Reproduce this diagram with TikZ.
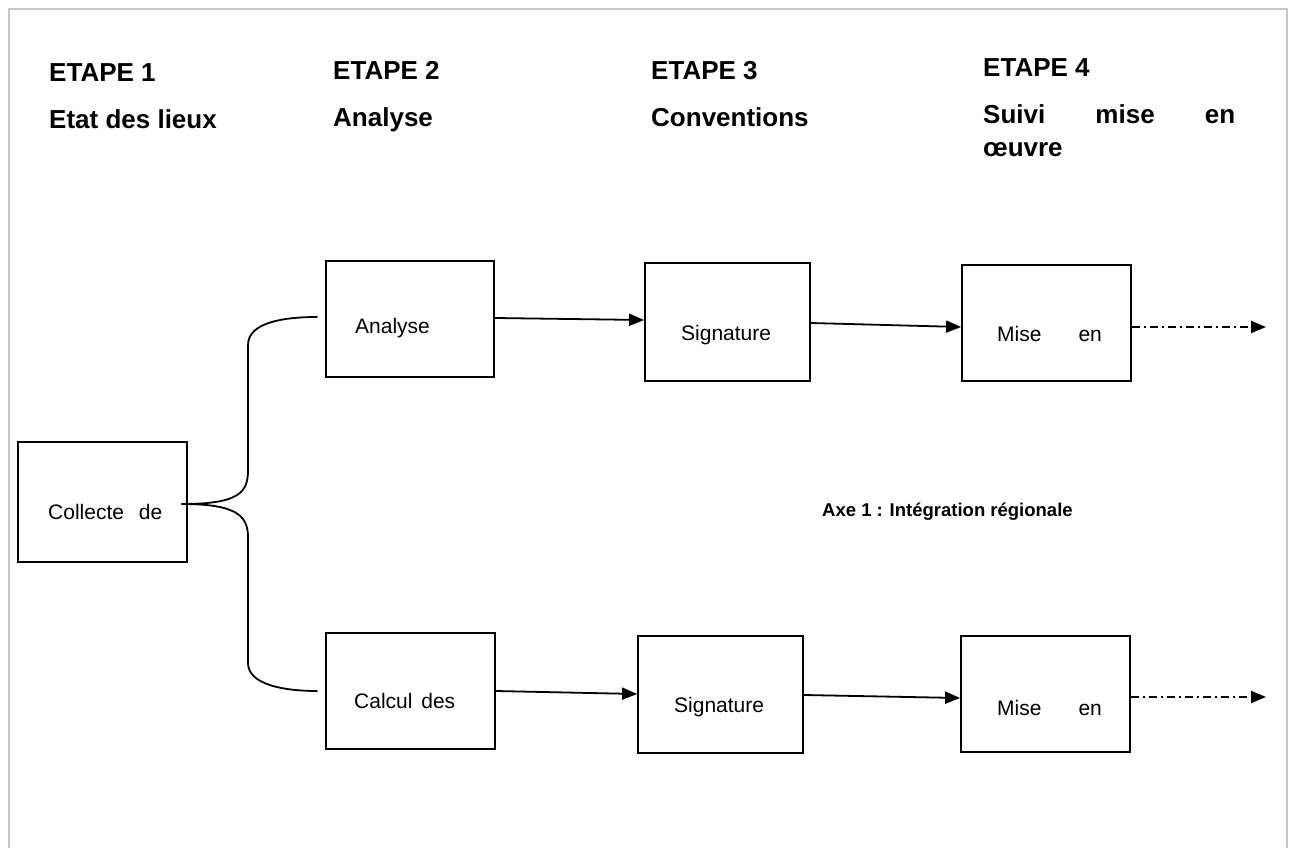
\documentclass[tikz,border=0pt]{standalone}
\usepackage{fontspec}
\setmainfont{Liberation Sans}
\usetikzlibrary{arrows.meta}
\definecolor{frame}{HTML}{C8C8C8}
\tikzset{
  box/.style={draw=black, line width=1.8pt, rectangle, inner sep=0pt},
  head/.style={anchor=base west, inner sep=0pt, font=\fontsize{26}{30}\selectfont\bfseries},
  body/.style={anchor=base west, inner sep=0pt, font=\fontsize{21}{25}\selectfont},
  axe/.style={anchor=base west, inner sep=0pt, font=\fontsize{18.5}{22}\selectfont\bfseries},
  link/.style={line width=1.8pt, line cap=round},
  arr/.style={line width=1.8pt, -{Triangle[length=15pt,width=12pt]}},
  dd/.style={line width=1.8pt, -{Triangle[length=15pt,width=12pt]}, dash pattern=on 8pt off 4pt on 2pt off 4pt}
}
\begin{document}
\begin{tikzpicture}[x=1pt,y=-1pt]
\useasboundingbox (0,0) rectangle (1291,848);
% frame
\draw[frame, line width=2.5pt] (9,848) -- (9,9) -- (1287,9) -- (1287,848);
% headers
\node[head] (h1) at (49,82) {ETAPE 1};
\node[head] (h1b) at (49,129) {Etat des lieux};
\node[head] (h2) at (333,80) {ETAPE 2};
\node[head] (h2b) at (333,127) {Analyse};
\node[head] (h3) at (651,80) {ETAPE 3};
\node[head] (h3b) at (651,127) {Conventions};
\node[head] (h4) at (983,77) {ETAPE 4};
\node[head] (h4b) at (983,124) {\makebox[252pt][s]{Suivi\hfill mise\hfill en}};
\node[head] (h4c) at (983,157) {œuvre};
% boxes
\node[box, minimum width=169pt, minimum height=120pt] (col) at (102.5,502) {};
\node[box, minimum width=168pt, minimum height=116pt] (ana) at (410,319) {};
\node[box, minimum width=165pt, minimum height=118pt] (sig1) at (727.5,322) {};
\node[box, minimum width=169pt, minimum height=116pt] (mis1) at (1046.5,323) {};
\node[box, minimum width=169pt, minimum height=116pt] (cal) at (410.5,691) {};
\node[box, minimum width=165pt, minimum height=117pt] (sig2) at (720.5,694.5) {};
\node[box, minimum width=169pt, minimum height=116pt] (mis2) at (1045.5,694) {};
% box texts
\node[body] (tcol) at (48,519) {Collecte\hspace{9pt} de};
\node[body] (tana) at (355,333) {Analyse};
\node[body] (tsig1) at (681,340) {Signature};
\node[body] (tmis1) at (997,341) {Mise\hspace{37pt}en};
\node[body] (tcal) at (354,708) {Calcul\hspace{3pt} des};
\node[body] (tsig2) at (674,712) {Signature};
\node[body] (tmis2) at (997,715) {Mise\hspace{37pt}en};
\node[axe] (axe) at (822,516) {Axe 1 : Intégration régionale};
% curly connector
\coordinate (fork) at (182,504);
\coordinate (up) at (317,317);
\coordinate (dn) at (317,691);
\draw[link] (fork) .. controls (240,504) and (248,492) .. (248,470) -- (248,345)
  .. controls (248,322) and (285,317) .. (up);
\draw[link] (fork) .. controls (235,504) and (248,515) .. (248,537) -- (248,663)
  .. controls (248,685) and (285,691) .. (dn);
% arrows
\coordinate (e1) at (1266,327);
\coordinate (e2) at (1266,697);
\draw[arr] (ana.east|-0,318) -- (sig1.west|-0,320);
\draw[arr] (sig1.east|-0,323) -- (mis1.west|-0,327);
\draw[dd] (mis1.east|-0,327) -- (e1);
\draw[arr] (cal.east|-0,691) -- (sig2.west|-0,694);
\draw[arr] (sig2.east|-0,695) -- (mis2.west|-0,698);
\draw[dd] (mis2.east|-0,697) -- (e2);
\end{tikzpicture}
\end{document}
